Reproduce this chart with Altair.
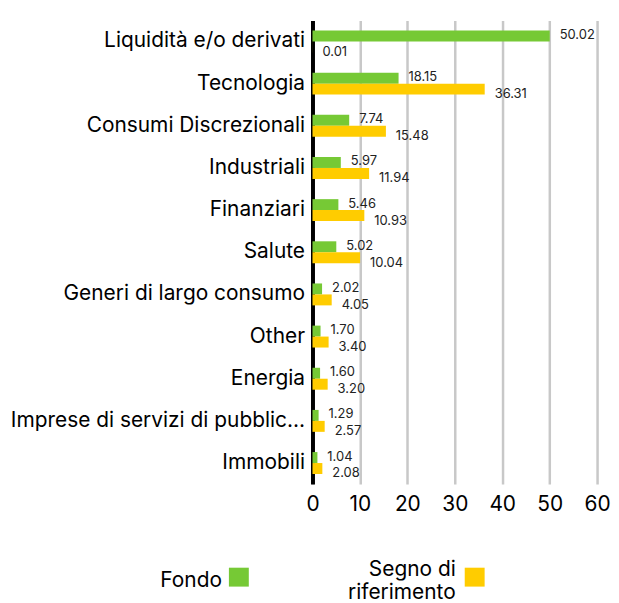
import altair as alt
import pandas as pd

categories = [
    "Liquidità e/o derivati",
    "Tecnologia",
    "Consumi Discrezionali",
    "Industriali",
    "Finanziari",
    "Salute",
    "Generi di largo consumo",
    "Other",
    "Energia",
    "Imprese di servizi di pubblica utilità",
    "Immobili",
]
fondo = [50.02, 18.15, 7.74, 5.97, 5.46, 5.02, 2.02, 1.70, 1.60, 1.29, 1.04]
riferimento = [0.01, 36.31, 15.48, 11.94, 10.93, 10.04, 4.05, 3.40, 3.20, 2.57, 2.08]
series = ["Fondo", "Segno di riferimento"]
legend_labels = ["Fondo", "Segno di\nriferimento"]
colors = ["#76c935", "#ffcc00"]
x_ticks = [0, 10, 20, 30, 40, 50, 60]

FONT = "Inter"

rows = []
for c, f, r in zip(categories, fondo, riferimento):
    rows.append({"cat": c, "series": series[0], "value": f, "label": f"{f:.2f}"})
    rows.append({"cat": c, "series": series[1], "value": r, "label": f"{r:.2f}"})
df = pd.DataFrame(rows)

y_enc = alt.Y(
    "cat:N",
    sort=categories,
    title=None,
    scale=alt.Scale(paddingInner=0.48, paddingOuter=0.24),
    axis=alt.Axis(
        labelFont=FONT,
        labelFontSize=21,
        labelColor="#000000",
        labelLimit=298,
        labelPadding=8,
        ticks=False,
        domainColor="#000000",
        domainWidth=4,
        grid=False,
    ),
)
x_enc = alt.X(
    "value:Q",
    title=None,
    scale=alt.Scale(domain=[0, 60], nice=False),
    axis=alt.Axis(
        values=x_ticks,
        labelFont=FONT,
        labelFontSize=21,
        labelColor="#000000",
        labelPadding=10,
        labelFlush=False,
        ticks=False,
        domain=False,
        grid=True,
        gridColor="#c8c8c8",
        gridWidth=2.5,
    ),
)
yoff = alt.YOffset("series:N", sort=series, scale=alt.Scale(paddingInner=0))
color_enc = alt.Color("series:N", scale=alt.Scale(domain=series, range=colors), legend=None)

bars = alt.Chart(df).mark_bar().encode(x=x_enc, y=y_enc, yOffset=yoff, color=color_enc)

text_f = (
    alt.Chart(df)
    .transform_filter(alt.datum.series == series[0])
    .mark_text(align="left", dx=10, dy=-1, font=FONT, fontSize=13, color="#222222")
    .encode(x="value:Q", y=alt.Y("cat:N", sort=categories), yOffset=yoff, text="label:N")
)
text_r = (
    alt.Chart(df)
    .transform_filter(alt.datum.series == series[1])
    .mark_text(align="left", dx=10, dy=5, font=FONT, fontSize=13, color="#222222")
    .encode(x="value:Q", y=alt.Y("cat:N", sort=categories), yOffset=yoff, text="label:N")
)

leg_df = pd.DataFrame({"series": series, "label": legend_labels})

leg_text_f = (
    alt.Chart(leg_df)
    .transform_filter(alt.datum.series == series[0])
    .mark_text(align="right", baseline="alphabetic", font=FONT, fontSize=21, color="#000000")
    .encode(x=alt.value(-91), y=alt.value(569), text="label:N")
)
leg_sq_f = (
    alt.Chart(leg_df)
    .transform_filter(alt.datum.series == series[0])
    .mark_rect(color=colors[0])
    .encode(x=alt.value(-84), x2=alt.value(-64), y=alt.value(550), y2=alt.value(569))
)
leg_text_r = (
    alt.Chart(leg_df)
    .transform_filter(alt.datum.series == series[1])
    .mark_text(align="right", baseline="alphabetic", lineBreak="\n", lineHeight=23,
               font=FONT, fontSize=21, color="#000000")
    .encode(x=alt.value(144), y=alt.value(558), text="label:N")
)
leg_sq_r = (
    alt.Chart(leg_df)
    .transform_filter(alt.datum.series == series[1])
    .mark_rect(color=colors[1])
    .encode(x=alt.value(153), x2=alt.value(173), y=alt.value(550), y2=alt.value(569))
)

chart = (
    alt.layer(bars, text_f, text_r, leg_text_f, leg_sq_f, leg_text_r, leg_sq_r)
    .properties(width=286, height=466, padding={"left": 2, "top": 11, "right": 0, "bottom": 0})
    .configure_view(stroke=None)
)

chart.save("out.html", embed_options={"renderer": "svg", "actions": False})
